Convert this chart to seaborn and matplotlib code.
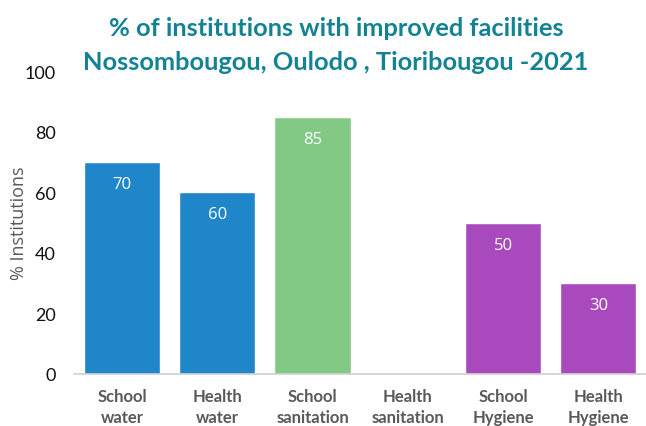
import numpy as np
import pandas as pd
import matplotlib
matplotlib.use('Agg')
import matplotlib.pyplot as plt
import seaborn as sns

# ── Data ─────────────────────────────────────────────────────
categories = ['School\nwater', 'Health\nwater', 'School\nsanitation',
              'Health\nsanitation', 'School\nHygiene', 'Health\nHygiene']
values     = [70, 60, 85, 0, 50, 30]
bar_colors = ['#1f87c9', '#1f87c9', '#83c986', '#83c986', '#a84abd', '#a84abd']
y_ticks    = [0, 20, 40, 60, 80, 100]

df = pd.DataFrame({'cat': categories, 'val': values})

sns.set_style('white')
plt.rcParams['font.family'] = ['Lato', 'DejaVu Sans']

fig = plt.figure(figsize=(6.46, 4.27), dpi=100)
ax  = fig.add_axes([0.115, 0.122, 0.885, 0.709])

sns.barplot(data=df, x='cat', y='val', hue='cat', palette=bar_colors,
            width=0.8, legend=False, saturation=1, ax=ax)

# value labels inside the bars
for i, v in enumerate(values):
    if v > 0:
        ax.text(i, v - 7.3, f'{v}', ha='center', va='center',
                color='white', fontsize=12, family=['Open Sans', 'DejaVu Sans'])

ax.set_ylim(0, 100)
ax.set_yticks(y_ticks)
ax.set_yticklabels([str(t) for t in y_ticks], fontsize=13, color='#111111')
ax.set_xticks(range(len(categories)))
ax.set_xticklabels(categories, fontsize=12, fontweight='bold', color='#595959',
                   linespacing=1.4)
ax.tick_params(axis='x', length=0, pad=10)
ax.tick_params(axis='y', length=0, pad=13.5)
ax.set_xlim(-0.5, 5.5)
ax.set_xlabel('')
ax.set_ylabel('% Institutions', fontsize=13, color='#595959',
              family=['Open Sans', 'DejaVu Sans'])
ax.yaxis.label.set_verticalalignment('center')
ax.yaxis.set_label_coords(-0.097, 0.5)

for s in ['top', 'right', 'left']:
    ax.spines[s].set_visible(False)
ax.spines['bottom'].set_color('#d0d0d0')
ax.spines['bottom'].set_linewidth(1.2)

fig.text(0.52, 0.893, '% of institutions with improved facilities\nNossombougou, Oulodo , Tioribougou -2021',
         ha='center', va='center', fontsize=18.3, fontweight='bold',
         color='#138394', linespacing=1.55)

fig.savefig('out.png', dpi=100)
